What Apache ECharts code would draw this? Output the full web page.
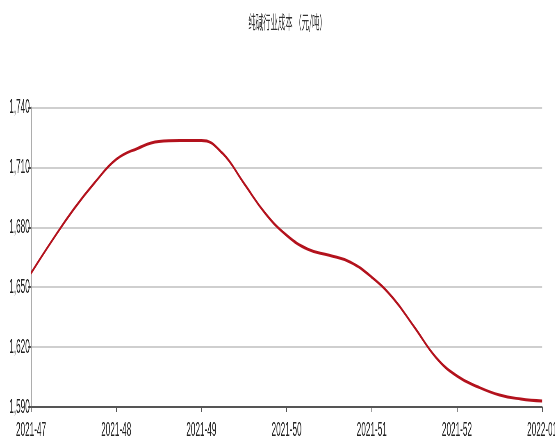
<!DOCTYPE html>
<html><head><meta charset="utf-8">
<script src="https://cdn.jsdelivr.net/npm/echarts@6/dist/echarts.min.js"></script>
<style>
html,body{margin:0;padding:0;background:#fff;overflow:hidden;width:555px;height:447px}
#c{width:1354px;height:447px;transform:scaleX(0.41);transform-origin:0 0}
</style>
</head><body><div id="c"></div>
<script>
var weekLabels = ['2021-47','2021-48','2021-49','2021-50','2021-51','2021-52','2022-01'];
var categories = [
  '2021-47','2021-47 b','2021-47 c','2021-47 d',
  '2021-48','2021-48 b','2021-48 c','2021-48 d',
  '2021-49','2021-49 b','2021-49 c','2021-49 d',
  '2021-50','2021-50 b','2021-50 c','2021-50 d',
  '2021-51','2021-51 b','2021-51 c','2021-51 d',
  '2021-52','2021-52 b','2021-52 c','2021-52 d',
  '2022-01'
];
var values = [
  1657, 1673.5, 1689, 1702.5,
  1714, 1719.5, 1723, 1723.5,
  1723.5, 1717, 1702, 1687,
  1676, 1669, 1666, 1662.5,
  1655, 1644.5, 1630, 1615,
  1605.5, 1600, 1596, 1594,
  1593
];
var yTicks = [1590, 1620, 1650, 1680, 1710, 1740];
var title = '纯碱行业成本 （元/吨）';

var S = 0.41;
var chart = echarts.init(document.getElementById('c'));
var font = 'Liberation Sans, Arial, sans-serif';
chart.setOption({
  animation: false,
  title: {text: title, left: 285.5 / S, textAlign: 'center', top: 8,
    textStyle: {fontSize: 18, fontWeight: 'normal', color: '#333', fontFamily: 'Noto Sans CJK SC'}},
  grid: {left: 31 / S, right: 13 / S, top: 107.5, bottom: 40, containLabel: false, outerBoundsMode: 'none'},
  xAxis: {
    type: 'category', boundaryGap: false, data: categories,
    axisLine: {lineStyle: {color: '#555', width: 2}},
    axisTick: {show: true, interval: 3, length: 5, lineStyle: {color: '#555', width: 2}},
    axisLabel: {interval: 3, color: '#222', fontSize: 20, fontFamily: font, margin: 13,
      formatter: function(v){return weekLabels.indexOf(v) >= 0 ? v : '';}},
    splitLine: {show: false}
  },
  yAxis: {
    type: 'value', min: yTicks[0], max: yTicks[yTicks.length-1], interval: 30,
    axisLine: {show: true, lineStyle: {color: '#888', width: 2}},
    axisTick: {show: true, length: 7, lineStyle: {color: '#555', width: 2}},
    axisLabel: {color: '#222', fontSize: 20, fontFamily: font, margin: 3,
      formatter: function(v){return v.toLocaleString('en-US');}},
    splitLine: {lineStyle: {color: '#cfcfcf', width: 2}}
  },
  series: [{
    type: 'line', data: values, smooth: 0.45, symbol: 'none',
    lineStyle: {color: '#b3121d', width: 3}
  }]
});
</script></body></html>
